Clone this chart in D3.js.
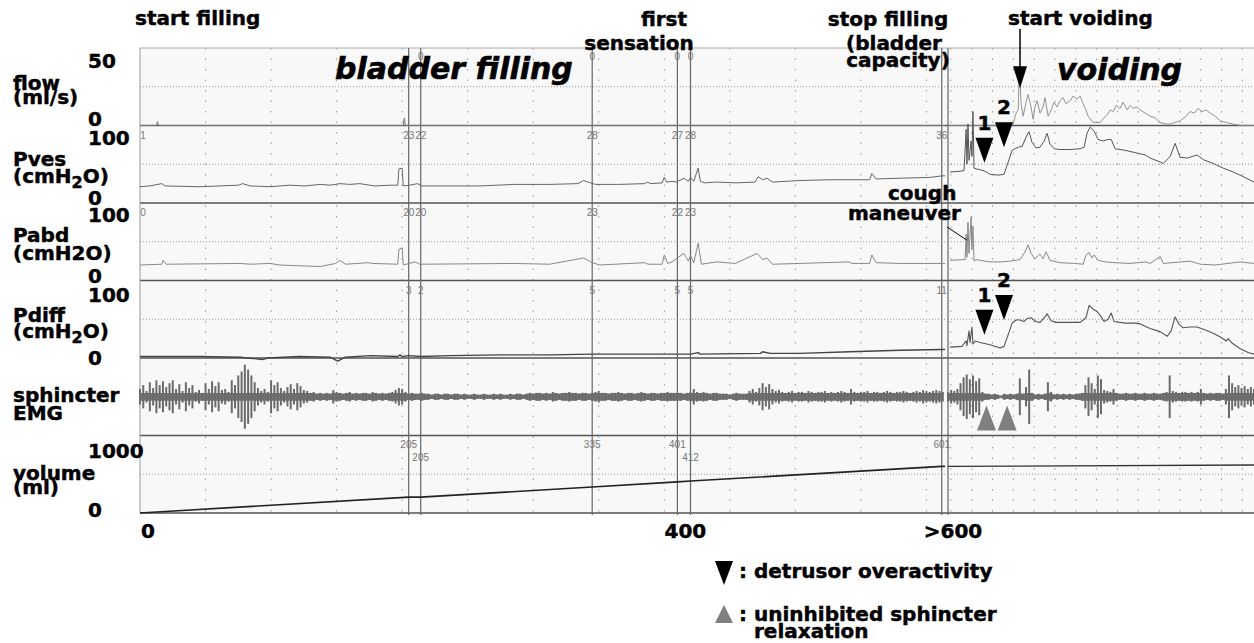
<!DOCTYPE html>
<html>
<head>
<meta charset="utf-8">
<script src="https://cdn.jsdelivr.net/npm/d3@7"></script>
<style>
body { margin: 0; background: #fff; }
text { font-family: "DejaVu Sans", Verdana, sans-serif; }
.lbl { font-weight: bold; font-size: 20px; fill: #000; stroke: #000; stroke-width: 0.45px; }
.big { font-weight: bold; font-style: italic; font-size: 30px; fill: #000; stroke: #000; stroke-width: 0.6px; }
.ev { font-family: "Liberation Sans", Arial, sans-serif; font-size: 10px; fill: #777; }
</style>
</head>
<body>
<div id="chart"></div>
<script>
// ---- data: filling phase time in s, voiding phase time in s (separate clocks) ----
var panelNames = ["flow", "Pves", "Pabd", "Pdiff", "sphincter", "volume"];
var panelUnits = ["(ml/s)", "(cmH₂O)", "(cmH2O)", "(cmH₂O)", "EMG", "(ml)"];
var panelMax = [50, 100, 100, 100, 40, 1000];
var scaleTopLabels = ["50", "100", "100", "100", "", "1000"];
var scaleBottomLabels = ["0", "0", "0", "0", "", "0"];
var axisLabels = ["0", "400", ">600"];
var axisLabelTimes = [0, 492, 737];

var flowFill = [[0,0],[15,0],[16,2.5],[17,0],[241,0],[242,4.8],[243,0],[737,0]];
var flowVoid = [[0,0],[28.8,0],[31.3,1],[32.7,8],[33.7,10],[34.1,27],[34.6,28],[35.1,14],[36.1,6],[37.5,15],[38.5,20],[39.9,12],[40.9,4],[41.8,12],[42.8,16],[44.2,8],[45.7,12],[46.6,18],[48.1,6],[49.5,10],[51.0,15],[52.4,12],[53.8,16],[55.3,18],[56.7,14],[58.7,16],[60.1,19],[62.0,17],[63.5,19],[64.9,14],[66.3,10],[67.3,6],[69.7,2],[73.1,2],[75.0,5],[76.5,7],[77.9,10],[79.4,9],[80.8,13],[82.7,11],[84.1,15],[86.1,10],[87.5,13],[88.9,11],[90.9,12],[92.3,10],[94.7,8],[97.1,6],[99.5,5],[101.9,2],[104.4,1],[106.7,1],[111.5,3],[114.4,6],[116.3,9],[118.3,8],[120.2,11],[122.1,9],[124.0,10],[126.0,8],[128.4,6],[130.8,3],[133.7,2],[136.6,1],[140.4,0],[147,0]];

var pvesFill = [[0,21],[9,22],[20,25],[23,22],[55,21],[90,23],[94,25],[101,22],[119,21],[137,23],[151,22],[165,24],[174,23],[183,25],[192,24],[201,25],[215,22],[229,23],[236,23],[237,44],[240,45],[241,22],[247,23],[254,25],[258,22],[284,22],[311,22],[343,24],[375,24],[401,25],[406,29],[410,27],[417,24],[439,24],[462,25],[465,27],[467,25],[478,26],[480,33],[482,27],[487,28],[491,27],[498,32],[502,28],[504,33],[507,28],[511,45],[513,28],[517,26],[528,27],[545,26],[563,27],[566,34],[570,30],[574,32],[579,27],[604,29],[632,30],[668,30],[670,38],[674,31],[696,32],[723,33],[734,35],[737,35]];
var pvesVoid = [[1,40],[5.8,41],[7.7,42],[8.7,95],[9.1,50],[9.6,102],[10.1,55],[11.1,80],[11.5,60],[12.0,118],[12.5,45],[13.5,44],[15.4,43],[17.8,41],[20.2,37],[24.0,36],[26.9,37],[28.8,52],[30.8,68],[33.7,72],[35.6,73],[37.5,85],[38.9,92],[40.4,78],[42.3,71],[44.2,72],[46.2,80],[47.6,90],[49.0,76],[51.0,70],[53.8,69],[58.7,69],[63.5,70],[65.4,72],[66.8,90],[68.3,98],[70.2,93],[72.1,82],[74.5,80],[76.9,82],[78.4,82],[80.3,70],[85.1,68],[89.9,65],[94.7,62],[97.1,58],[101.9,53],[103.4,51],[106.7,60],[109.1,77],[111.5,59],[114.9,58],[119.7,62],[122.6,56],[127.4,51],[132.2,45],[137.0,40],[141.8,34],[147,27]];

var pabdFill = [[0,20],[20,21],[21,26],[24,21],[92,22],[101,21],[119,22],[128,20],[146,19],[165,18],[179,22],[183,26],[188,21],[209,23],[213,22],[236,21],[237,40],[240,42],[241,20],[252,24],[256,21],[343,22],[375,21],[406,29],[409,27],[414,23],[421,20],[462,23],[465,21],[478,21],[480,33],[483,22],[487,24],[498,35],[502,25],[504,32],[507,23],[511,48],[514,21],[528,24],[545,22],[565,35],[570,27],[574,29],[579,21],[604,22],[649,24],[652,22],[668,22],[670,33],[674,23],[696,22],[737,22]];
var pabdVoid = [[1,26],[8.2,27],[8.7,60],[9.1,30],[9.6,75],[10.1,35],[11.1,82],[11.5,40],[12.0,70],[12.5,25],[13.5,27],[15.4,26],[20.2,24],[25.0,24],[29.8,25],[34.6,27],[37.0,37],[38.5,46],[39.9,35],[41.8,28],[44.2,34],[45.7,28],[47.1,37],[49.0,26],[53.8,23],[61.1,22],[64.9,21],[66.3,33],[67.8,36],[69.2,29],[70.2,33],[72.1,26],[75.5,24],[80.3,23],[87.5,22],[94.7,24],[97.1,22],[101.9,31],[103.4,22],[116.3,25],[121.2,21],[128.4,20],[140.4,24],[147,22]];

var pdiffFill = [[0,2],[55,2],[92,1],[112,-2],[117,0],[146,2],[174,1],[181,-4],[188,1],[211,3],[236,2],[238,4],[240,2],[246,3],[257,2],[284,3],[330,4],[375,4],[414,5],[458,5],[492,5],[504,5],[511,7],[513,5],[568,6],[570,8],[577,6],[604,6],[650,8],[696,10],[734,11],[737,11]];
var pdiffVoid = [[1,14],[6.7,15],[8.7,22],[9.1,16],[10.1,35],[10.6,20],[11.5,40],[12.0,18],[13.0,22],[15.4,20],[20.2,17],[25.0,13],[26.9,15],[29.3,33],[30.8,45],[32.7,49],[34.6,49],[36.5,47],[38.0,51],[39.9,52],[42.3,47],[44.2,46],[46.6,53],[47.6,57],[49.5,48],[51.9,46],[58.7,46],[63.5,46],[66.3,52],[67.8,68],[69.7,63],[71.6,60],[73.1,55],[75.0,47],[76.9,50],[78.4,58],[79.8,47],[85.1,45],[89.9,45],[92.3,44],[97.1,38],[101.9,34],[105.3,28],[107.2,35],[109.1,53],[111.1,43],[113.0,39],[116.3,40],[119.7,40],[123.6,36],[127.4,32],[130.8,27],[133.7,22],[134.6,25],[136.6,19],[140.4,12],[144.2,7],[147,5]];

// EMG envelope amplitude (uV), one value every 3 s (filling) and 1.5 s (voiding)
var emgFill = [8,12,6, 15,9,17,12, 16,10,14,17,8, 13,6,15,9,12, 5,7,4, 14,8,16,11,15,7, 8,5, 17,12, 22,26, 33,28, 22,15, 9,6,8, 5, 17,12,15, 9,6,10, 13,8,14,11,7, 6,4,5,3, 4,3,4,3, 7,5,
  4,3,4,5,3,4,3,4,4,3,5,4,3,4,3,4,5, 7,9,8,5, 3,4,3,3,4,3, 3,2,3,3,2,3,3,2,3,3,
  2,3,2,2,3,2,2,3,2,2,3,2,3,2,2,3,2,3,3,2, 3,4,3,4,4,3,4,3,5,4,3,4,4, 5,4,4,3,4,4,3,4, 5,6,4,
  4,3,4,4,5,4,3,4,4,3,4,5,4,3,4,4,3,4,4,5,4,4, 4,4,3,4,5,8,5, 4,5,4,3,4,4,3, 3,3,2,3,4,3,3,3,
  6,8,5,9,14,10,13,8,6,7, 5,4,5,6,4,5,5,4,6,5,4,5,5,6,4,5,4,5,6,5,4, 8,
  5,4,5,5,6,4,5,5,4,5,6,5,4,5,5,6,5,4,5, 6,5,7,6,5,6,7,6,5];
var emgVoid = [5,7,6,8, 14,20,23,18,22,16,19, 5,3, 3,2,3,2, 1, 3,2,3,2, 3,19,3,10,28,4,2,3,2,3,15,5,
  2,3,2,3,2,3,2,3,3,4,12,20,14,8,22,18,7,6,5,8,4,3,3,4,3,3,4,3,3,4,3,3,4,3,3,4,5,22,6,5,4,5,5,4,5,4,5,8,4,3,4,3,4,4,3,8,22,14,10,12,9,11,8,10,8];
var emgFillStep = 3, emgVoidStep = 1.5;

var volumeFill = [[0,0],[246,205],[257,205],[414,335],[492,401],[504,412],[734,601],[737,601]];
var volumeVoid = [[0,601],[147,619]];

// event markers during filling and their printed values
var eventTimes = [246, 257, 414, 492, 504, 734];
var eventFlow  = ["", "0", "0", "0", "0", ""];
var eventPves  = ["23", "22", "28", "27", "28", "36"];
var eventPabd  = ["20", "20", "23", "22", "23", ""];
var eventPdiff = ["3", "2", "5", "5", "5", "11"];
var eventVol   = ["205", "205", "335", "401", "412", "601"];

// annotations in voiding phase
var detrusorTimes = [17.5, 26.9];
var detrusorPvesTip = [52, 72];
var detrusorPdiffTip = [30, 49];
var sphincterTimes = [18.5, 28.4];
var startVoidingTime = 34.6;
var startVoidingFlow = 24;
var coughTime = 9.1, coughPabd = 52;

// ---- layout ----
var W = 1254, H = 643;
var plotTop = 48, panelH = 77.5;
var nameDy = [42, 40.5, 39, 41.5, 44, 44.5];
var unitDy = [56, 57.5, 57, 57.5, 62, 58.5];
var topLabDy = [20, 19.5, 19, 21.5, 0, 22.5];
var botLabDy = [0.5, 2, 2.5, 7, 0, 4];

var svg = d3.select("#chart").append("svg")
    .attr("width", W)
    .attr("height", H);

var xFill = d3.scaleLinear().domain([0, 737]).range([140, 945]);
var xVoid = d3.scaleLinear().domain([0, 147]).range([948, 1254]);

var ys = panelMax.map(function(m, i) {
  var top = plotTop + i * panelH;
  var lo = (i === 4) ? -m : 0;
  return d3.scaleLinear().domain([lo, m]).range([top + panelH, top]);
});
var yFlow = ys[0], yPves = ys[1], yPabd = ys[2], yPdiff = ys[3], yEmg = ys[4], yVol = ys[5];
var plotBottom = plotTop + 6 * panelH;

// background
svg.append("rect")
    .attr("x", xFill(0)).attr("y", plotTop)
    .attr("width", xVoid(147) - xFill(0)).attr("height", plotBottom - plotTop)
    .attr("fill", "#f8f8f8");

// vertical dotted grid
var gridFill = d3.range(60, 737, 60);
var gridVoid = d3.range(1.4, 147, 10);
var grid = svg.append("g").attr("stroke", "#999").attr("stroke-width", 1).attr("stroke-dasharray", "1.5,9");
gridFill.forEach(function(t) {
  grid.append("line").attr("x1", xFill(t)).attr("x2", xFill(t)).attr("y1", plotTop).attr("y2", plotBottom);
});
gridVoid.forEach(function(t) {
  grid.append("line").attr("x1", xVoid(t)).attr("x2", xVoid(t)).attr("y1", plotTop).attr("y2", plotBottom);
});

// panel mid dotted lines and borders
ys.forEach(function(y, i) {
  var mid = y.range()[1] + panelH / 2;
  if (i !== 4) {
    [[xFill(0), xFill(737)], [xVoid(0), xVoid(147)]].forEach(function(seg) {
      svg.append("line").attr("x1", seg[0]).attr("x2", seg[1]).attr("y1", mid).attr("y2", mid)
        .attr("stroke", "#999").attr("stroke-width", 1).attr("stroke-dasharray", "1,2");
    });
  }
});
d3.range(7).forEach(function(i) {
  var yy = plotTop + i * panelH;
  svg.append("line").attr("x1", xFill(0)).attr("x2", xVoid(147)).attr("y1", yy).attr("y2", yy)
    .attr("stroke", i === 0 ? "#aaa" : "#555").attr("stroke-width", i === 0 ? 1 : 1.3);
});
svg.append("line").attr("x1", xFill(0)).attr("x2", xFill(0)).attr("y1", plotTop).attr("y2", plotBottom)
    .attr("stroke", "#999");

// event lines
eventTimes.forEach(function(t) {
  svg.append("line").attr("x1", xFill(t)).attr("x2", xFill(t)).attr("y1", plotTop).attr("y2", plotBottom + 2)
    .attr("stroke", "#666").attr("stroke-width", 1.2);
});
svg.append("line").attr("x1", xVoid(0)).attr("x2", xVoid(0)).attr("y1", plotTop).attr("y2", plotBottom + 2)
    .attr("stroke", "#666").attr("stroke-width", 1.2);

// event value labels
function eventRow(vals, y, dy, stagger) {
  vals.forEach(function(v, i) {
    if (!v) return;
    var x = xFill(eventTimes[i]);
    var off = 0;
    if (stagger && i > 0 && x - xFill(eventTimes[i - 1]) < 16) off = 13;
    svg.append("text").attr("class", "ev").attr("x", x).attr("y", y.range()[1] + dy + off)
      .attr("text-anchor", "middle").text(v);
  });
}
eventRow(eventFlow, yFlow, 12, false);
eventRow(eventPves, yPves, 13, false);
eventRow(eventPabd, yPabd, 13, false);
eventRow(eventPdiff, yPdiff, 13, false);
eventRow(eventVol, yVol, 12, true);
svg.append("text").attr("class", "ev").attr("x", xFill(0) + 3).attr("y", yPves.range()[1] + 13).attr("text-anchor", "middle").text("1");
svg.append("text").attr("class", "ev").attr("x", xFill(0) + 3).attr("y", yPabd.range()[1] + 13).attr("text-anchor", "middle").text("0");

// traces
function trace(data, xs, y, color, w) {
  svg.append("path").datum(data)
    .attr("fill", "none").attr("stroke", color).attr("stroke-width", w)
    .attr("stroke-linejoin", "round")
    .attr("d", d3.line().x(function(d) { return xs(d[0]); }).y(function(d) { return y(d[1]); }));
}
trace(flowFill, xFill, yFlow, "#777", 1);
trace(flowVoid, xVoid, yFlow, "#888", 0.9);
trace(pvesFill, xFill, yPves, "#666", 1);
trace(pvesVoid, xVoid, yPves, "#555", 1);
trace(pabdFill, xFill, yPabd, "#888", 1);
trace(pabdVoid, xVoid, yPabd, "#888", 1);
trace(pdiffFill, xFill, yPdiff, "#444", 1.4);
trace(pdiffVoid, xVoid, yPdiff, "#555", 1.1);
trace(volumeFill, xFill, yVol, "#222", 1.6);
trace(volumeVoid, xVoid, yVol, "#333", 1.4);

// EMG
function emg(vals, step, xs) {
  var pts = vals.map(function(a, i) { return [i * step, a]; });
  svg.append("path").datum(pts)
    .attr("fill", "#737373")
    .attr("d", d3.area()
      .x(function(d) { return xs(d[0]); })
      .y0(function(d) { return yEmg(-Math.min(d[1], 4)); })
      .y1(function(d) { return yEmg(Math.min(d[1], 4)); }));
  svg.append("g").selectAll("line").data(pts).enter().append("line")
    .attr("x1", function(d) { return xs(d[0]); })
    .attr("x2", function(d) { return xs(d[0]); })
    .attr("y1", function(d) { return yEmg(-d[1]); })
    .attr("y2", function(d) { return yEmg(d[1]); })
    .attr("stroke", "#6a6a6a").attr("stroke-width", 2);
}
emg(emgFill, emgFillStep, xFill);
emg(emgVoid, emgVoidStep, xVoid);

// left labels
panelNames.forEach(function(n, i) {
  var top = plotTop + i * panelH;
  svg.append("text").attr("class", "lbl").attr("x", 13).attr("y", top + nameDy[i]).text(n);
  var u = svg.append("text").attr("class", "lbl").attr("x", 13).attr("y", top + unitDy[i]);
  var parts = panelUnits[i].split("₂");
  if (parts.length > 1) {
    u.append("tspan").text(parts[0]);
    u.append("tspan").attr("dy", 5).style("font-size", "16px").text("2");
    u.append("tspan").attr("dy", -5).text(parts[1]);
  } else {
    u.text(panelUnits[i]);
  }
  if (scaleTopLabels[i]) {
    svg.append("text").attr("class", "lbl").attr("x", 88).attr("y", top + topLabDy[i]).text(scaleTopLabels[i]);
    svg.append("text").attr("class", "lbl").attr("x", 88).attr("y", top + panelH + botLabDy[i]).text(scaleBottomLabels[i]);
  }
});

// bottom labels
axisLabels.forEach(function(l, i) {
  svg.append("text").attr("class", "lbl").attr("x", xFill(axisLabelTimes[i]) + 8).attr("y", 538)
    .attr("text-anchor", "middle").text(l);
});

// headings
svg.append("text").attr("class", "lbl").attr("x", 135).attr("y", 25).text("start filling");
svg.append("text").attr("class", "lbl").attr("x", 664).attr("y", 26).attr("text-anchor", "middle").text("first");
svg.append("text").attr("class", "lbl").attr("x", 639).attr("y", 50).attr("text-anchor", "middle").text("sensation");
svg.append("text").attr("class", "lbl").attr("x", 888).attr("y", 26).attr("text-anchor", "middle").text("stop filling");
svg.append("text").attr("class", "lbl").attr("x", 894).attr("y", 50).attr("text-anchor", "middle").text("(bladder");
svg.append("text").attr("class", "lbl").attr("x", 898).attr("y", 67).attr("text-anchor", "middle").text("capacity)");
svg.append("text").attr("class", "lbl").attr("x", 1008).attr("y", 25).text("start voiding");
svg.append("text").attr("class", "big").attr("x", 335).attr("y", 79).text("bladder filling");
svg.append("text").attr("class", "big").attr("x", 1057).attr("y", 80).text("voiding");

// start voiding arrow
var ax = xVoid(startVoidingTime), ay = yFlow(startVoidingFlow);
svg.append("line").attr("x1", ax).attr("x2", ax).attr("y1", 29).attr("y2", ay - 10)
    .attr("stroke", "#000").attr("stroke-width", 1.5);
svg.append("path").attr("d", "M" + (ax - 7) + "," + (ay - 22) + "L" + (ax + 7) + "," + (ay - 22) + "L" + ax + "," + ay + "Z")
    .attr("fill", "#000");

// cough maneuver
svg.append("text").attr("class", "lbl").attr("x", 888).attr("y", 200).text("cough");
svg.append("text").attr("class", "lbl").attr("x", 848).attr("y", 220).text("maneuver");
svg.append("line").attr("x1", 947).attr("y1", 227).attr("x2", xVoid(coughTime)).attr("y2", yPabd(coughPabd))
    .attr("stroke", "#000").attr("stroke-width", 1);

// detrusor overactivity marks
function tri(x, tipY, down, w, h, color) {
  var baseY = down ? tipY - h : tipY + h;
  svg.append("path").attr("d", "M" + (x - w / 2) + "," + baseY + "L" + (x + w / 2) + "," + baseY + "L" + x + "," + tipY + "Z")
    .attr("fill", color);
}
detrusorTimes.forEach(function(t, i) {
  var x = xVoid(t);
  [[yPves, detrusorPvesTip[i]], [yPdiff, detrusorPdiffTip[i]]].forEach(function(p) {
    var tip = p[0](p[1]);
    tri(x, tip, true, 18, 25, "#000");
    svg.append("text").attr("class", "lbl").attr("x", x).attr("y", tip - 33).attr("text-anchor", "middle").text(i + 1);
  });
});
sphincterTimes.forEach(function(t) {
  tri(xVoid(t), yEmg.range()[0] - 30, false, 19, 25, "#808080");
});

// legend
tri(724, 585, true, 18, 24, "#000");
svg.append("text").attr("class", "lbl").attr("x", 739).attr("y", 578).text(": detrusor overactivity");
tri(724, 605, false, 18, 18, "#808080");
svg.append("text").attr("class", "lbl").attr("x", 739).attr("y", 621).text(": uninhibited sphincter");
svg.append("text").attr("class", "lbl").attr("x", 754).attr("y", 638).text("relaxation");
</script>
</body>
</html>
